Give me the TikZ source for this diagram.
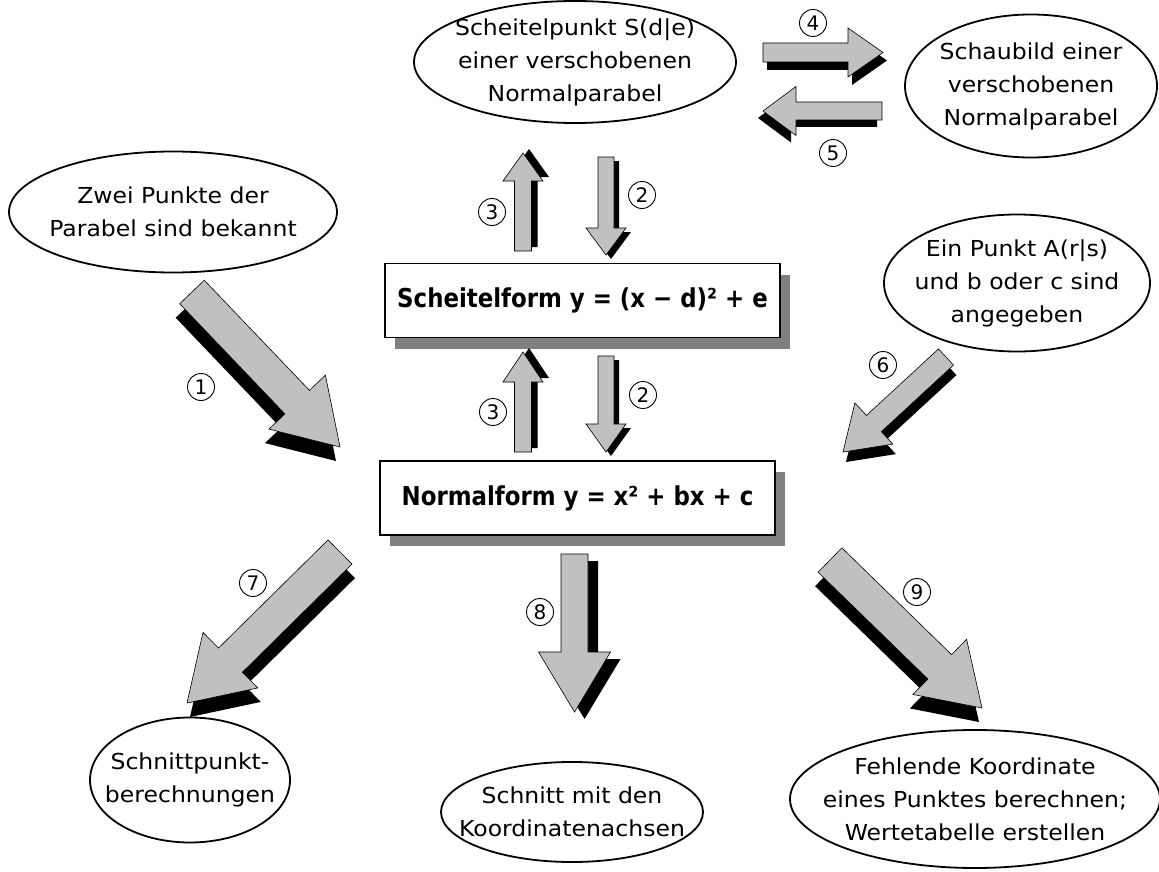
\documentclass[tikz,border=0pt]{standalone}
\usepackage{fontspec}
\setmainfont{DejaVu Sans}[FakeStretch=1.07]
\newfontfamily\formfont{DejaVu Sans}[FakeStretch=0.88]
\newfontfamily\numfont{DejaVu Sans}
\usepackage{tikz}
\usetikzlibrary{shapes.geometric, calc, shadows}
\definecolor{arrowgray}{RGB}{192,192,192}
\definecolor{shadegray}{RGB}{128,128,128}
\tikzset{
  bubble/.style={ellipse, draw=black, line width=1.8pt, inner sep=0pt},
  bubbletext/.style={align=center, inner sep=0pt, font=\fontsize{22}{33}\selectfont},
  formbox/.style={rectangle, draw=black, line width=1.3pt, fill=white,
    minimum width=395pt, minimum height=74pt,
    font=\formfont\bfseries\fontsize{26}{30}\selectfont,
    general shadow={shadow xshift=10pt, shadow yshift=-11pt, fill=shadegray}},
  stepnum/.style={circle, draw=black, line width=0.9pt, minimum size=27pt,
    inner sep=0pt, font=\numfont\fontsize{20}{20}\selectfont},
  blockarrow/.style={draw=black, line width=0.6pt, fill=arrowgray, line join=miter}
}
% block arrow: from, to, half body, half head, head length, shadow dx, shadow dy
\newcommand{\fatarrow}[7]{%
  \coordinate (#1-b) at ($(#2)!#5!(#1)$);
  \path[blockarrow, general shadow={shadow xshift=#6, shadow yshift=#7, fill=black}]
    ($(#1)!#3!90:(#2)$) -- ($(#1-b)!#3!-90:(#1)$) -- ($(#1-b)!#4!-90:(#1)$) -- (#2)
    -- ($(#1-b)!#4!90:(#1)$) -- ($(#1-b)!#3!90:(#1)$) -- ($(#1)!#3!-90:(#2)$) -- cycle;
}

\begin{document}
\begin{tikzpicture}[x=1pt, y=-1pt]
  \path[fill=white, use as bounding box] (0,0) rectangle (1159,872);
  % Ellipses
  \node[bubble, minimum width=322pt, minimum height=122pt] (svertex) at (575,62) {};
  \node[bubbletext] (svertex-t) at (svertex) {Scheitelpunkt S(d|e)\\einer verschobenen\\Normalparabel};
  \node[bubble, minimum width=252pt, minimum height=143pt] (graph) at (1031,86) {};
  \node[bubbletext] (graph-t) at (graph) {Schaubild einer\\verschobenen\\Normalparabel};
  \node[bubble, minimum width=328pt, minimum height=121pt] (twopts) at (173,212) {};
  \node[bubbletext] (twopts-t) at (twopts) {Zwei Punkte der\\Parabel sind bekannt};
  \node[bubble, minimum width=266pt, minimum height=137pt] (onept) at (1017,283) {};
  \node[bubbletext] (onept-t) at (onept) {Ein Punkt A(r|s)\\und b oder c sind\\angegeben};
  \node[bubble, minimum width=200pt, minimum height=125pt] (inter) at (190,780) {};
  \node[bubbletext] (inter-t) at (inter) {Schnittpunkt-\\berechnungen};
  \node[bubble, minimum width=262pt, minimum height=100pt] (axes) at (572,812) {};
  \node[bubbletext] (axes-t) at (axes) {Schnitt mit den\\Koordinatenachsen};
  \node[bubble, minimum width=370pt, minimum height=138pt] (table) at (975,799) {};
  \node[bubbletext] (table-t) at (table) {Fehlende Koordinate\\eines Punktes berechnen;\\Wertetabelle erstellen};
  % Forms
  \node[formbox] (sform) at (582.5,300.5) {Scheitelform y = (x − d)² + e};
  \node[formbox] (nform) at (577.5,498) {Normalform y = x² + bx + c};
  % Arrow ends
  \coordinate (a1s) at (192,292);   \coordinate (a1e) at (340,447);
  \coordinate (a2s) at (606,157);   \coordinate (a2e) at (606,255);
  \coordinate (a2S) at (606,356);   \coordinate (a2E) at (606,452);
  \coordinate (a3s) at (523,251);   \coordinate (a3e) at (523,153);
  \coordinate (a3S) at (523,452);   \coordinate (a3E) at (523,352);
  \coordinate (a4s) at (763,52.5);  \coordinate (a4e) at (883,52.5);
  \coordinate (a5s) at (882,111);   \coordinate (a5e) at (763,111);
  \coordinate (a6s) at (946,357);   \coordinate (a6e) at (843,452);
  \coordinate (a7s) at (340,552);   \coordinate (a7e) at (187,703);
  \coordinate (a8s) at (574.5,554); \coordinate (a8e) at (574.5,712);
  \coordinate (a9s) at (830,560);   \coordinate (a9e) at (982,708);
  % Block arrows
  \fatarrow{a1s}{a1e}{17pt}{39pt}{62pt}{-4pt}{-14pt}
  \fatarrow{a2s}{a2e}{8pt}{20pt}{27pt}{5pt}{-4pt}
  \fatarrow{a2S}{a2E}{8pt}{20pt}{28pt}{5pt}{-4pt}
  \fatarrow{a3s}{a3e}{8.5pt}{20pt}{28pt}{6pt}{4pt}
  \fatarrow{a3S}{a3E}{8.5pt}{20pt}{30pt}{6pt}{4pt}
  \fatarrow{a4s}{a4e}{9.5pt}{24.5pt}{35pt}{4pt}{-8pt}
  \fatarrow{a5s}{a5e}{9pt}{24.5pt}{33pt}{-5pt}{-7pt}
  \fatarrow{a6s}{a6e}{11pt}{28pt}{42pt}{3pt}{-10pt}
  \fatarrow{a7s}{a7e}{17pt}{39pt}{61pt}{3pt}{-14pt}
  \fatarrow{a8s}{a8e}{13.5pt}{36pt}{60pt}{10pt}{-7pt}
  \fatarrow{a9s}{a9e}{17pt}{38.5pt}{59pt}{-3pt}{-14pt}
  % Step numbers
  \node[stepnum] (n1) at (201,387) {1};
  \node[stepnum] (n2) at (642,195) {2};
  \node[stepnum] (n2b) at (643,395) {2};
  \node[stepnum] (n3) at (492,212) {3};
  \node[stepnum] (n3b) at (493,412) {3};
  \node[stepnum] (n4) at (813,23) {4};
  \node[stepnum] (n5) at (833,153) {5};
  \node[stepnum] (n6) at (883,365) {6};
  \node[stepnum] (n7) at (253,583) {7};
  \node[stepnum] (n8) at (540,612) {8};
  \node[stepnum] (n9) at (917,592) {9};
\end{tikzpicture}
\end{document}
